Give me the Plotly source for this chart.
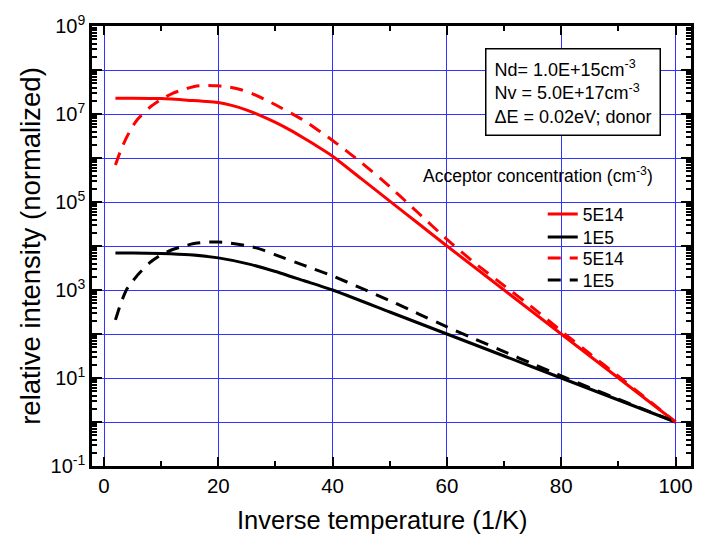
import plotly.graph_objects as go

# ---- data ----
x_red_solid = [2, 5, 10, 15, 20, 22.5, 25, 27.5, 30, 32.5, 35, 37.5, 40, 45, 50, 55, 60,
               70, 80, 90, 100]
y_red_solid = [2.29e7, 2.29e7, 2.24e7, 2.04e7, 1.82e7, 1.55e7, 1.23e7, 9.12e6, 6.46e6,
               4.37e6, 2.82e6, 1.78e6, 1.10e6, 3.39e5, 1.05e5, 3.24e4, 1.0e4, 1.0e3,
               100, 10, 1]

x_black_solid = [2, 5, 10, 15, 20, 25, 30, 35, 40, 50, 60, 70, 80, 90, 100]
y_black_solid = [6.92e3, 6.92e3, 6.76e3, 6.31e3, 5.37e3, 3.98e3, 2.63e3, 1.62e3, 1.0e3,
                 316, 100, 31.6, 10, 3.16, 1]

x_red_dash = [2, 3, 4, 5, 6, 8, 10, 12, 14, 16, 18, 20, 22, 24, 26, 28, 30, 35, 40, 45,
              50, 55, 60, 65, 70, 75, 80, 85, 90, 95, 100]
y_red_dash = [6.92e5, 1.58e6, 3.02e6, 5.25e6, 7.94e6, 1.41e7, 2.14e7, 2.95e7, 3.63e7,
              4.27e7, 4.47e7, 4.37e7, 4.07e7, 3.55e7, 2.88e7, 2.19e7, 1.62e7, 7.08e6,
              2.51e6, 7.94e5, 2.24e5, 5.62e4, 1.41e4, 3.98e3, 1.26e3, 398, 117, 35.5,
              11.0, 3.31, 1]

x_black_dash = [2, 3, 4, 5, 6, 8, 10, 12, 14, 16, 18, 20, 22, 24, 26, 28, 30, 35, 40, 45,
                50, 55, 60, 65, 70, 75, 80, 85, 90, 95, 100]
y_black_dash = [209, 525, 1.05e3, 1.58e3, 2.29e3, 4.17e3, 6.31e3, 8.32e3, 1.0e4, 1.15e4,
                1.23e4, 1.23e4, 1.17e4, 1.07e4, 9.55e3, 7.94e3, 6.31e3, 3.63e3, 2.09e3,
                1.10e3, 575, 288, 145, 75.9, 39.8, 20.9, 11.2, 6.03, 3.31, 1.82, 1]

series_names = ["5E14", "1E5", "5E14", "1E5"]

x_tickvals = [0, 20, 40, 60, 80, 100]
y_exponents = [-1, 0, 1, 2, 3, 4, 5, 6, 7, 8, 9]
y_labeled = [-1, 1, 3, 5, 7, 9]

FONT = "Liberation Sans, Arial, sans-serif"
RED = "#ff0000"
BLACK = "#000000"
GRID = "#3333ff"

# plot area in pixels (for placing legends / notes in paper coordinates)
PL, PR, PT, PB = 92, 694, 26, 466
def px_x(px):
    return (px - PL) / (PR - PL)
def px_y(py):
    return (PB - py) / (PB - PT)

fig = go.Figure()
traces = [
    (x_red_solid, y_red_solid, RED, "solid", "legend"),
    (x_black_solid, y_black_solid, BLACK, "solid", "legend2"),
    (x_red_dash, y_red_dash, RED, "13px,9px", "legend3"),
    (x_black_dash, y_black_dash, BLACK, "13px,9px", "legend4"),
]
for (xs, ys, col, dash, lg), nm in zip(traces, series_names):
    fig.add_trace(go.Scatter(x=xs, y=ys, mode="lines", name=nm, legend=lg,
                             line=dict(color=col, width=3, dash=dash,
                                       shape="spline", smoothing=0.5)))

ytickvals = [10 ** e for e in y_exponents]
yticktext = [("10<sup>%d</sup>" % e) if e in y_labeled else "" for e in y_exponents]

legend_centers = [214, 237, 258, 280]
leg_common = dict(xanchor="left", yanchor="middle", bgcolor="rgba(0,0,0,0)", borderwidth=0,
                  font=dict(family=FONT, size=17.5, color="black"))
legends = {}
for i, cy in enumerate(legend_centers):
    key = "legend" if i == 0 else "legend%d" % (i + 1)
    legends[key] = dict(x=px_x(545), y=px_y(cy), **leg_common)

fig.update_layout(
    width=701, height=538,
    margin=dict(l=PL, r=701 - PR, t=PT, b=538 - PB),
    paper_bgcolor="white", plot_bgcolor="white",
    font=dict(family=FONT, size=20, color="black"),
    showlegend=True,
    xaxis=dict(range=[-2.1, 102.7], tickvals=x_tickvals,
               ticks="inside", ticklen=9, tickwidth=2, tickcolor="black",
               showline=True, linewidth=2.5, linecolor="black", mirror="ticks",
               showgrid=True, gridcolor=GRID, gridwidth=1, zeroline=False,
               minor=dict(dtick=10, ticks="inside", ticklen=5, tickwidth=2,
                          tickcolor="black", showgrid=False),
               tickfont=dict(size=20.5)),
    yaxis=dict(type="log", range=[-1, 9], tickvals=ytickvals, ticktext=yticktext,
               ticks="inside", ticklen=10, tickwidth=2, tickcolor="black",
               showline=True, linewidth=2.5, linecolor="black", mirror="ticks",
               showgrid=True, gridcolor=GRID, gridwidth=1, zeroline=False,
               minor=dict(dtick="D1", ticks="inside", ticklen=5, tickwidth=1.5,
                          tickcolor="black", showgrid=False),
               title=dict(text="relative intensity (normalized)", font=dict(size=27.5), standoff=2),
               tickfont=dict(size=20)),
    annotations=[
        dict(xref="paper", yref="paper", x=px_x(384), y=px_y(520),
             xanchor="center", yanchor="middle", showarrow=False,
             text="Inverse temperature (1/K)",
             font=dict(family=FONT, size=25.5, color="black")),
        dict(xref="paper", yref="paper", x=px_x(487), y=px_y(48),
             xanchor="left", yanchor="top", align="left", showarrow=False,
             text="Nd= 1.0E+15cm<sup>-3</sup><br>Nv = 5.0E+17cm<sup>-3</sup><br>ΔE = 0.02eV; donor",
             font=dict(family=FONT, size=18, color="black"),
             bordercolor="black", borderwidth=1.5, borderpad=8, bgcolor="white"),
        dict(xref="paper", yref="paper", x=px_x(423), y=px_y(175),
             xanchor="left", yanchor="middle", showarrow=False,
             text="Acceptor concentration (cm<sup>-3</sup>)",
             font=dict(family=FONT, size=17.5, color="black")),
    ],
    **legends,
)

fig.write_html("out.html")
